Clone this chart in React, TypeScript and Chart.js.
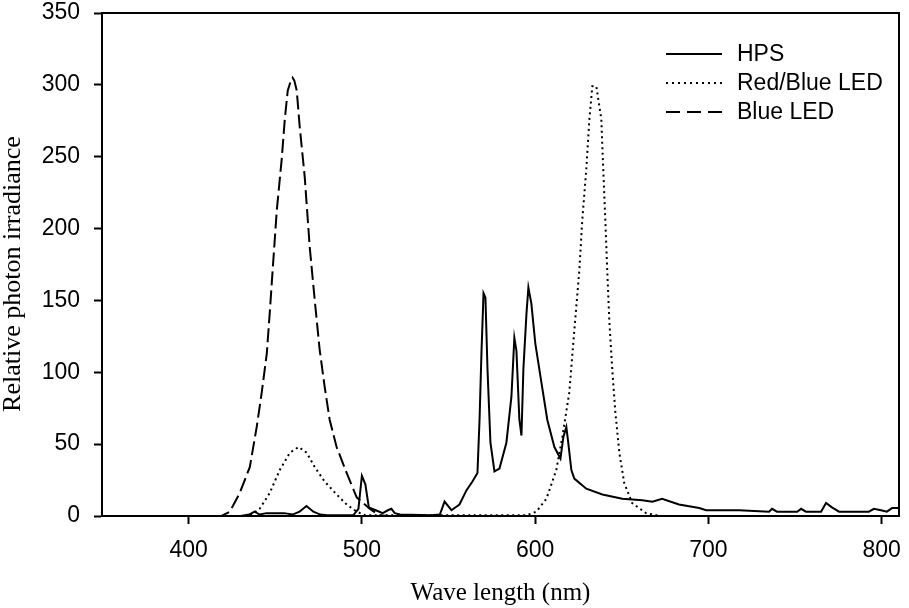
import { useEffect, useRef } from "react";
import { Chart, registerables } from "chart.js";

Chart.register(...registerables);

// ---- Data ----
const hpsWavelength = [
  350, 430, 435, 438, 441, 445, 455, 460, 464, 468, 472, 476, 480, 495, 498, 500, 502, 504, 508, 512,
  515, 517, 519, 522, 540, 545, 547.7, 551.7, 556.3, 560.4, 563.8, 566.7, 567.9, 569, 570.2, 571.3,
  572.5, 574.2, 576.5, 579.4, 583.4, 586.3, 588, 589.2, 590.9, 592.1, 593.2, 595, 596.1, 597.8, 600.1,
  603.6, 607, 611.1, 614.6, 616.3, 618, 619.1, 620.9, 622.6, 629.5, 638.8, 650.3, 661.8, 667.6, 673.3,
  683, 694.7, 698.7, 717.7, 735, 736.7, 739.6, 751.2, 753.5, 756.3, 765, 767.9, 771.3, 775.4, 792.6,
  795.5, 799.6, 803, 806, 810,
];
const hpsValues = [
  0, 0, 1, 3, 1, 2, 2, 1, 3, 7, 3, 1, 0.5, 0.5, 5, 28, 22, 6, 4, 2,
  4, 5, 2, 1, 0.5, 1, 10, 4, 8, 18, 24, 30, 67, 113, 155, 152,
  102, 51, 31, 33, 51, 83, 124, 115, 67, 56, 102, 141, 159, 148, 120,
  93, 67, 48, 40, 55, 62, 51, 32, 26, 19, 15, 12, 11, 10, 12,
  8, 5.5, 4, 4, 3, 5, 3, 3, 5, 3, 3, 9, 6, 3, 3,
  5, 4, 3, 5.5, 5.5,
];

const redBlueWavelength = [
  350, 435, 441, 446.8, 452.6, 458.4, 463.5, 468.2, 472.8, 478.5, 485.4, 491.2, 497, 502, 595, 600.7,
  606.5, 612.2, 615.7, 619.7, 622.6, 625.5, 627.2, 629.5, 631.3, 633, 635.3, 638.2, 639.3, 640.5, 641.6,
  642.8, 644.5, 646.3, 648.6, 651.4, 656, 664, 672, 810,
];
const redBlueValues = [
  0, 0, 5, 16, 32, 44, 48, 44, 34, 24, 15, 8, 3, 0.5, 0.5, 3,
  12, 32, 55, 86, 129, 171, 206, 241, 276, 299, 299, 276, 241, 206, 171,
  136, 102, 72, 44, 23, 9, 2, 0, 0,
];

const blueWavelength = [
  350, 419, 423.8, 429.5, 435.3, 439.3, 442.2, 445.1, 446.8, 448.6, 450.9, 453.7, 455.5, 457.2, 459,
  460, 461, 462.4, 464.1, 467, 469.9, 472.8, 475.6, 478.5, 481.4, 485.4, 491.2, 497, 504.5, 510, 515, 810,
];
const blueValues = [
  0, 0, 3, 16, 34, 62, 86, 113, 141, 173, 213, 248, 276, 296, 303,
  305, 303, 296, 271, 236, 187, 150, 116, 90, 67, 48, 30, 13, 5, 0.5, 0, 0,
];

const seriesLabels = ["HPS", "Red/Blue LED", "Blue LED"];
const xTickValues = [400, 500, 600, 700, 800];
const yTickValues = [0, 50, 100, 150, 200, 250, 300, 350];
const xAxisTitle = "Wave length (nm)";
const yAxisTitle = "Relative photon irradiance";

export default function App() {
  const canvasRef = useRef<HTMLCanvasElement | null>(null);

  useEffect(() => {
    const canvas = canvasRef.current;
    if (!canvas) return;

    const toPoints = (xs: number[], ys: number[]) => xs.map((x, i) => ({ x, y: ys[i] }));

    const framePlugin = {
      id: "frame",
      afterDraw(chart: any) {
        const { ctx, chartArea } = chart;
        ctx.save();
        ctx.strokeStyle = "#000";
        ctx.lineWidth = 2;
        ctx.setLineDash([]);
        ctx.strokeRect(chartArea.left, chartArea.top, chartArea.right - chartArea.left, chartArea.bottom - chartArea.top);
        // y-axis title
        ctx.font = '26px "Liberation Serif", "Times New Roman", serif';
        ctx.fillStyle = "#000";
        ctx.textAlign = "center";
        ctx.textBaseline = "middle";
        ctx.translate(13, 274);
        ctx.rotate(-Math.PI / 2);
        ctx.fillText(yAxisTitle, 0, 0);
        ctx.restore();
      },
    };

    const legendDashes = [[], [2, 4], [14, 7]];
    const legendPlugin = {
      id: "customLegend",
      afterDraw(chart: any) {
        const { ctx } = chart;
        ctx.save();
        ctx.font = '23px "Liberation Sans", Arial, sans-serif';
        ctx.fillStyle = "#000";
        ctx.strokeStyle = "#000";
        ctx.textBaseline = "middle";
        ctx.textAlign = "left";
        ctx.lineWidth = 2;
        const ys = [54, 83, 112];
        seriesLabels.forEach((label, i) => {
          ctx.setLineDash(legendDashes[i]);
          ctx.beginPath();
          ctx.moveTo(666, ys[i]);
          ctx.lineTo(722, ys[i]);
          ctx.stroke();
          ctx.setLineDash([]);
          ctx.fillText(label, 737, ys[i] + 1);
        });
        ctx.restore();
      },
    };

    const tickFont = { family: '"Liberation Sans", Arial, sans-serif', size: 23 };
    const titleFont = { family: '"Liberation Serif", "Times New Roman", serif', size: 25, lineHeight: 1 };

    const chart = new Chart(canvas, {
      type: "line",
      data: {
        datasets: [
          {
            label: seriesLabels[0],
            data: toPoints(hpsWavelength, hpsValues),
            borderColor: "#000",
            borderWidth: 2,
            pointRadius: 0,
            tension: 0,
            fill: false,
          },
          {
            label: seriesLabels[1],
            data: toPoints(redBlueWavelength, redBlueValues),
            borderColor: "#000",
            borderWidth: 2,
            borderDash: [2, 3.5],
            pointRadius: 0,
            tension: 0,
            fill: false,
          },
          {
            label: seriesLabels[2],
            data: toPoints(blueWavelength, blueValues),
            borderColor: "#000",
            borderWidth: 2,
            borderDash: [14, 5],
            pointRadius: 0,
            tension: 0,
            fill: false,
          },
        ],
      },
      options: {
        animation: false,
        responsive: false,
        devicePixelRatio: 1,
        layout: { padding: { left: 0, right: 10, top: 13, bottom: 0 } },
        plugins: {
          legend: { display: false },
          tooltip: { enabled: false },
        },
        scales: {
          x: {
            type: "linear",
            min: 350,
            max: 810,
            afterBuildTicks: (scale: any) => {
              scale.ticks = xTickValues.map((v) => ({ value: v }));
            },
            afterFit: (scale: any) => {
              scale.height = 92;
              scale.paddingLeft = 0;
              scale.paddingRight = 0;
            },
            grid: {
              display: true,
              drawOnChartArea: false,
              drawTicks: true,
              tickLength: 8,
              tickWidth: 2,
              tickColor: "#000",
            },
            border: { display: true, color: "#000", width: 2 },
            ticks: {
              color: "#000",
              padding: 13,
              font: tickFont,
            },
            title: {
              display: true,
              text: xAxisTitle,
              color: "#000",
              padding: { top: 0, bottom: 2 },
              font: titleFont,
            },
          },
          y: {
            type: "linear",
            min: 0,
            max: 350,
            afterBuildTicks: (scale: any) => {
              scale.ticks = yTickValues.map((v) => ({ value: v }));
            },
            afterFit: (scale: any) => {
              scale.width = 102;
              scale.paddingTop = 0;
              scale.paddingBottom = 0;
            },
            grid: {
              display: true,
              drawOnChartArea: false,
              drawTicks: true,
              tickLength: 8,
              tickWidth: 2,
              tickColor: "#000",
            },
            border: { display: true, color: "#000", width: 2 },
            ticks: {
              color: "#000",
              padding: 14,
              font: tickFont,
            },
            title: { display: false },
          },
        },
      },
      plugins: [framePlugin, legendPlugin],
    });

    return () => {
      chart.destroy();
    };
  }, []);

  return (
    <div style={{ position: "fixed", left: 0, top: 0, width: 909, height: 608, background: "#fff" }}>
      <canvas ref={canvasRef} width={909} height={608} style={{ width: 909, height: 608, display: "block" }} />
    </div>
  );
}
